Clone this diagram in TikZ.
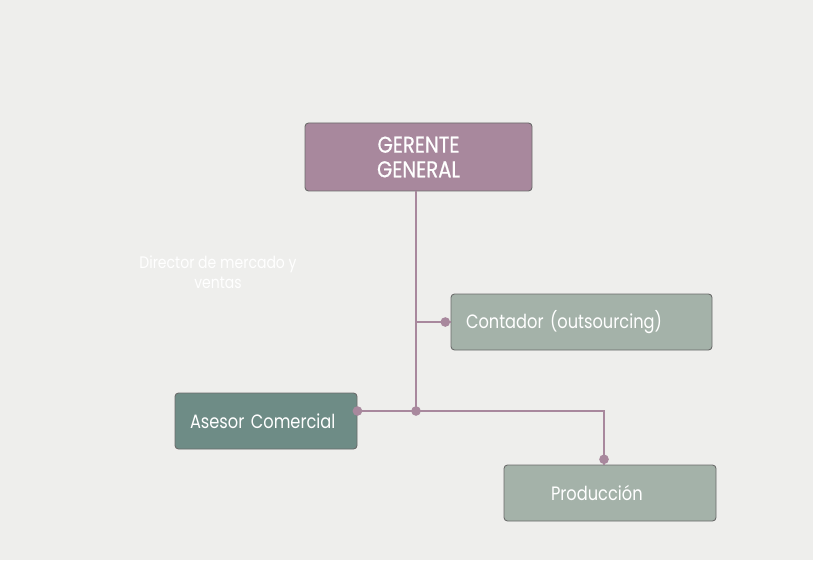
\documentclass[tikz,border=0pt]{standalone}
\usepackage{fontspec}
\setmainfont{Poppins}
\newfontfamily\boxfont{Poppins}[FakeStretch=0.84]
\newfontfamily\headfont{Poppins}[FakeStretch=0.86, FakeBold=0.5]
\usetikzlibrary{positioning}
\definecolor{Paper}{HTML}{EEEEEC}
\definecolor{Mauve}{HTML}{A8889D}
\definecolor{Sage}{HTML}{A4B2A9}
\definecolor{Slate}{HTML}{6E8C86}
\definecolor{Rim}{HTML}{6A6A6A}

\tikzset{
  rolebox/.style={draw=Rim, line width=0.5pt, rounded corners=2pt, text=white, inner ysep=0pt, minimum height=56*0.02cm},
  link/.style={Mauve, line width=1.3pt},
  knob/.style={circle, fill=Mauve, inner sep=0pt, minimum size=5.5pt}
}

\begin{document}
\begin{tikzpicture}[x=0.02cm, y=-0.02cm]
      \fill[Paper] (0,0) rectangle (813,560);
      \useasboundingbox (0,0) rectangle (813,560);
      % boxes
      \node[rolebox, fill=Mauve, align=center, inner xsep=0pt, minimum width=227*0.02cm, minimum height=68*0.02cm, font=\headfont\fontsize{13}{13}\selectfont] (gerente) at (418.5,157) {GERENTE\\[1pt]GENERAL};
      \node[rolebox, fill=Sage, align=left, inner xsep=15*0.02cm, text width=231*0.02cm, font=\boxfont\fontsize{11}{12}\selectfont] (contador) at (581.5,322) {Contador (outsourcing)};
      \node[rolebox, fill=Slate, align=left, inner xsep=15*0.02cm, text width=152*0.02cm, font=\boxfont\fontsize{11}{12}\selectfont] (asesor) at (266,421) {Asesor Comercial};
      \node[rolebox, fill=Sage, align=left, inner xsep=47*0.02cm, text width=118*0.02cm, font=\boxfont\fontsize{11}{12}\selectfont] (produccion) at (610,493) {Producción};
      \node[text=white, align=center, font=\boxfont\fontsize{9.5}{11.5}\selectfont] (director) at (218,272) {Director de mercado y\\ventas};
      % connectors
      \coordinate (junta) at (416,411);
      \coordinate (rama) at (416,322);
      \coordinate (esquina) at (604,411);
      \draw[link] (gerente.south -| junta) -- (junta);
      \draw[link] (rama) -- (contador.west);
      \draw[link] (asesor.east |- junta) -- (esquina) -- (produccion.north -| esquina);
      \node[knob] at ([xshift=-3pt]contador.west) {};
      \node[knob] at (junta) {};
      \node[knob] at (asesor.east |- junta) {};
      \node[knob] at ([yshift=3pt]produccion.north -| esquina) {};
    \end{tikzpicture}
\end{document}
